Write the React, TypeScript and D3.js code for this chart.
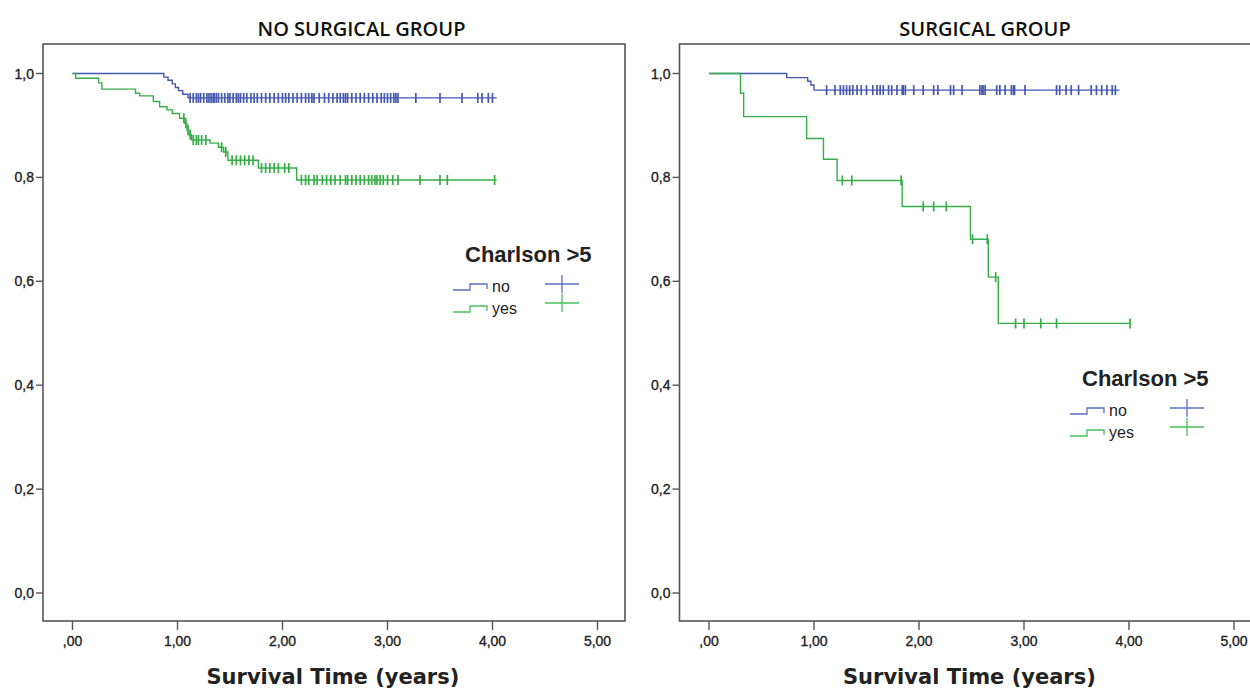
import React from 'react';
import * as d3 from 'd3';

const W = 1250;
const H = 689;

const xTicks = [0, 1, 2, 3, 4, 5];
const xTickLabels = [',00', '1,00', '2,00', '3,00', '4,00', '5,00'];
const yTicks = [0, 0.2, 0.4, 0.6, 0.8, 1];
const yTickLabels = ['0,0', '0,2', '0,4', '0,6', '0,8', '1,0'];
const groupNames = ['no', 'yes'];
const groupColors = ['#4558b0', '#37ad48'];
const legendColors = ['#5b6ec2', '#47c05a'];

// NO SURGICAL GROUP, Charlson >5 = no
const nsNoTimes = [0.87, 0.91, 0.95, 0.98, 1.01, 1.05, 1.1];
const nsNoSurv = [0.993, 0.987, 0.98, 0.973, 0.967, 0.96, 0.953];
const nsNoCensor = [1.12, 1.15, 1.18, 1.2, 1.22, 1.25, 1.28, 1.3, 1.32, 1.34, 1.35, 1.37, 1.39, 1.42, 1.45,
  1.48, 1.5, 1.53, 1.56, 1.58, 1.6, 1.63, 1.66, 1.7, 1.73, 1.76, 1.8, 1.84, 1.88, 1.92, 1.96, 2.0, 2.03,
  2.06, 2.1, 2.14, 2.18, 2.22, 2.25, 2.28, 2.3, 2.35, 2.4, 2.44, 2.48, 2.52, 2.55, 2.58, 2.6, 2.62, 2.66,
  2.7, 2.74, 2.78, 2.82, 2.86, 2.9, 2.94, 2.97, 3.0, 3.03, 3.06, 3.08, 3.1, 3.27, 3.5, 3.71, 3.86, 3.9,
  3.96, 4.0];
const nsNoEnd = 4.04;

// NO SURGICAL GROUP, Charlson >5 = yes
const nsYesTimes = [0.03, 0.25, 0.28, 0.6, 0.64, 0.77, 0.83, 0.9, 0.95, 1.02, 1.07, 1.09, 1.11, 1.135,
  1.31, 1.39, 1.44, 1.48, 1.77, 2.135];
const nsYesSurv = [0.991, 0.982, 0.97, 0.962, 0.957, 0.946, 0.936, 0.93, 0.923, 0.914, 0.904, 0.891,
  0.882, 0.872, 0.866, 0.858, 0.849, 0.833, 0.818, 0.795];
const nsYesCensor = [1.06, 1.08, 1.1, 1.12, 1.15, 1.18, 1.2, 1.23, 1.27, 1.42, 1.46, 1.52, 1.56, 1.6,
  1.64, 1.68, 1.72, 1.8, 1.84, 1.88, 1.92, 1.96, 2.02, 2.06, 2.18, 2.22, 2.25, 2.3, 2.33, 2.38, 2.42,
  2.46, 2.5, 2.55, 2.6, 2.62, 2.66, 2.7, 2.74, 2.78, 2.82, 2.85, 2.88, 2.9, 2.93, 2.96, 3.0, 3.05, 3.1,
  3.31, 3.5, 3.57, 4.02];
const nsYesEnd = 4.04;

// SURGICAL GROUP, Charlson >5 = no
const sNoTimes = [0.74, 0.94, 0.97, 1.0];
const sNoSurv = [0.992, 0.985, 0.978, 0.968];
const sNoCensor = [1.12, 1.2, 1.25, 1.28, 1.31, 1.34, 1.37, 1.41, 1.45, 1.5, 1.56, 1.6, 1.63, 1.66, 1.71,
  1.74, 1.79, 1.84, 1.85, 1.87, 1.95, 2.04, 2.14, 2.18, 2.3, 2.33, 2.41, 2.58, 2.6, 2.61, 2.63, 2.74,
  2.77, 2.82, 2.88, 2.9, 2.91, 3.01, 3.31, 3.34, 3.4, 3.45, 3.52, 3.64, 3.69, 3.74, 3.79, 3.84, 3.87];
const sNoEnd = 3.91;

// SURGICAL GROUP, Charlson >5 = yes
const sYesTimes = [0.3, 0.33, 0.93, 1.09, 1.22, 1.84, 2.49, 2.66, 2.755];
const sYesSurv = [0.962, 0.917, 0.875, 0.835, 0.794, 0.744, 0.681, 0.608, 0.519];
const sYesCensor = [1.27, 1.36, 1.83, 2.04, 2.14, 2.26, 2.51, 2.65, 2.73, 2.92, 3.0, 3.16, 3.31, 4.01];
const sYesEnd = 4.01;

type Series = { times: number[]; surv: number[]; censor: number[]; end: number };

const panels = [
  {
    title: 'NO SURGICAL GROUP',
    x0: 72.5,
    titleOffset: 289,
    legend: { x: 453, y: 254, plus: 109 },
    series: [
      { times: nsNoTimes, surv: nsNoSurv, censor: nsNoCensor, end: nsNoEnd },
      { times: nsYesTimes, surv: nsYesSurv, censor: nsYesCensor, end: nsYesEnd },
    ] as Series[],
  },
  {
    title: 'SURGICAL GROUP',
    x0: 709,
    titleOffset: 276,
    legend: { x: 1070, y: 378, plus: 117 },
    series: [
      { times: sNoTimes, surv: sNoSurv, censor: sNoCensor, end: sNoEnd },
      { times: sYesTimes, surv: sYesSurv, censor: sYesCensor, end: sYesEnd },
    ] as Series[],
  },
];

const y = d3.scaleLinear().domain([0, 1]).range([593, 73.5]);
const frameTop = 44;
const frameBottom = 621;
const frameColor = '#555';
const tickFont = '"Liberation Sans", Arial, sans-serif';

function survAt(s: Series, t: number) {
  const i = d3.bisectRight(s.times, t);
  return i === 0 ? 1 : s.surv[i - 1];
}

const Panel = ({ p }: { p: (typeof panels)[number] }) => {
  const x = d3.scaleLinear().domain([0, 5]).range([p.x0, p.x0 + 525]);
  const left = x(0) - 29.5;
  const right = x(5) + 27.5;
  const line = d3
    .line<[number, number]>()
    .x((d) => x(d[0]))
    .y((d) => y(d[1]))
    .curve(d3.curveStepAfter);

  return (
    <g>
      <text x={x(0) + p.titleOffset} y={36} textAnchor="middle"
        style={{ font: '600 20px "Open Sans", sans-serif', fill: '#111' }}>{p.title}</text>
      <rect x={left} y={frameTop} width={right - left} height={frameBottom - frameTop}
        fill="none" stroke={frameColor} strokeWidth={1.6} />
      {yTicks.map((v, i) => (
        <g key={'y' + i}>
          <line x1={left - 7} x2={left} y1={y(v)} y2={y(v)} stroke={frameColor} strokeWidth={1.4} />
          <text x={left - 9} y={y(v) + 5} textAnchor="end" stroke="#222" strokeWidth={0.35}
            style={{ font: `14px ${tickFont}`, fill: '#222' }}>{yTickLabels[i]}</text>
        </g>
      ))}
      {xTicks.map((v, i) => (
        <g key={'x' + i}>
          <line x1={x(v)} x2={x(v)} y1={frameBottom} y2={frameBottom + 9} stroke={frameColor} strokeWidth={1.4} />
          <text x={x(v)} y={646} textAnchor="middle" stroke="#222" strokeWidth={0.35}
            style={{ font: `14px ${tickFont}`, fill: '#222' }}>{xTickLabels[i]}</text>
        </g>
      ))}
      <text x={x(2.48)} y={684} textAnchor="middle"
        style={{ font: '700 21px "DejaVu Sans", sans-serif', fill: '#222' }}>Survival Time (years)</text>

      {p.series.map((s, gi) => {
        const pts: [number, number][] = [[0, 1], ...s.times.map((t, i) => [t, s.surv[i]] as [number, number]),
          [s.end, s.surv[s.surv.length - 1]]];
        return (
          <g key={'s' + gi}>
            <path d={line(pts) || ''} fill="none" stroke={groupColors[gi]} strokeWidth={1.4} />
            {s.censor.map((c, ci) => (
              <line key={ci} x1={x(c)} x2={x(c)} y1={y(survAt(s, c)) - 5} y2={y(survAt(s, c)) + 5}
                stroke={groupColors[gi]} strokeWidth={1.7} />
            ))}
          </g>
        );
      })}

      <g transform={`translate(${p.legend.x},${p.legend.y})`}>
        <text x={12} y={8} style={{ font: `700 22px ${tickFont}`, fill: '#222' }}>Charlson &gt;5</text>
        {groupNames.map((g, gi) => {
          const rowY = 36 + gi * 22;
          const plusY = 30 + gi * 19;
          return (
            <g key={g}>
              <path d={`M0,${rowY} H17 V${rowY - 6} H34 V${rowY - 1}`} fill="none"
                stroke={legendColors[gi]} strokeWidth={1.3} />
              <text x={39} y={rowY + 2} style={{ font: `16px ${tickFont}`, fill: '#222' }}>{g}</text>
              <line x1={p.legend.plus - 17} x2={p.legend.plus + 17} y1={plusY} y2={plusY}
                stroke={legendColors[gi]} strokeWidth={1.3} />
              <line x1={p.legend.plus} x2={p.legend.plus} y1={plusY - 9} y2={plusY + 9}
                stroke={legendColors[gi]} strokeWidth={1.3} />
            </g>
          );
        })}
      </g>
    </g>
  );
};

export default function App() {
  return (
    <svg width={W} height={H} style={{ position: 'absolute', left: 0, top: 0, background: '#fff' }}>
      <rect width={W} height={H} fill="#fff" />
      {panels.map((p) => (
        <Panel key={p.title} p={p} />
      ))}
    </svg>
  );
}
